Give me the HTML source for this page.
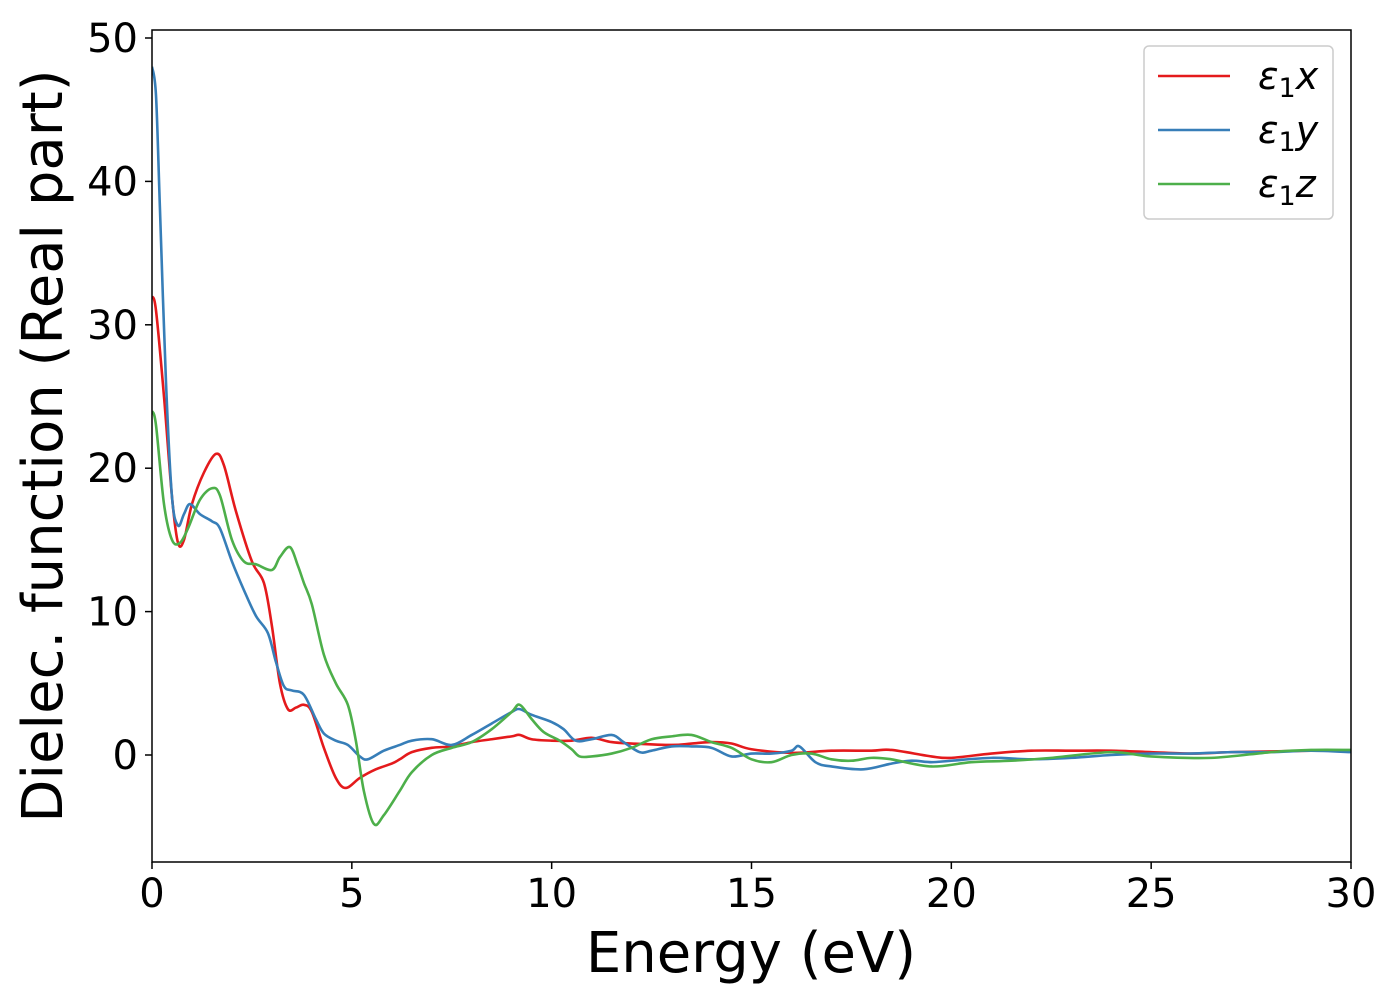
<!DOCTYPE html>
<html><head><meta charset="utf-8"><style>
body{margin:0;background:#fff;}
svg text{font-family:"DejaVu Sans","Liberation Sans",sans-serif;fill:#000;}
</style></head><body>
<svg width="1400" height="1000" viewBox="0 0 1400 1000" xmlns="http://www.w3.org/2000/svg">
<rect width="1400" height="1000" fill="#fff"/>
<defs><clipPath id="pc"><rect x="152" y="30" width="1199" height="832"/></clipPath></defs>
<g id="ticks"></g>
<g id="series" clip-path="url(#pc)"></g>
<rect x="152" y="30" width="1199" height="832" fill="none" stroke="#000" stroke-width="1.5"/>
<text x="751" y="972" font-size="56" text-anchor="middle">Energy (eV)</text>
<text transform="translate(62,446) rotate(-90)" font-size="56" text-anchor="middle">Dielec. function (Real part)</text>
<g>
<rect x="1144" y="46" width="189" height="173" rx="5" fill="#fff" stroke="#ccc" stroke-width="1.5"/>
<line x1="1158" y1="76" x2="1230" y2="76" stroke="#e41a1c" stroke-width="2.5"/>
<text x="1258" y="89" font-size="38" font-style="italic">ε<tspan font-style="normal" font-size="27" dy="8">1</tspan><tspan dy="-8">x</tspan></text>
<line x1="1158" y1="130" x2="1230" y2="130" stroke="#377eb8" stroke-width="2.5"/>
<text x="1258" y="143" font-size="38" font-style="italic">ε<tspan font-style="normal" font-size="27" dy="8">1</tspan><tspan dy="-8">y</tspan></text>
<line x1="1158" y1="184" x2="1230" y2="184" stroke="#4daf4a" stroke-width="2.5"/>
<text x="1258" y="197" font-size="38" font-style="italic">ε<tspan font-style="normal" font-size="27" dy="8">1</tspan><tspan dy="-8">z</tspan></text>
</g>
</svg>
<script>
const xTicks=[0,5,10,15,20,25,30];
const yTicks=[0,10,20,30,40,50];
const redE=[0,0.1,0.3,0.5,0.65,0.8,1.0,1.3,1.6,1.8,2.1,2.5,2.8,3.0,3.2,3.4,3.6,3.8,4.0,4.3,4.6,4.85,5.2,5.6,6.0,6.2,6.5,7,7.5,8,8.5,9,9.2,9.5,10,10.5,11,11.5,12,13,13.5,14,14.5,15,16,17,18,18.5,19.5,20,21,22,23,24,25,26,27,28,29,30];
const redV=[32,31,25,18,14.8,15,17.5,19.7,21,20.2,17,13.5,12,9,5,3.2,3.3,3.5,3,0.5,-1.6,-2.3,-1.6,-1,-0.6,-0.3,0.2,0.5,0.6,0.9,1.1,1.3,1.4,1.1,1.0,1.0,1.2,0.9,0.8,0.7,0.8,0.9,0.8,0.4,0.15,0.3,0.3,0.35,-0.1,-0.2,0.1,0.3,0.3,0.3,0.2,0.1,0.2,0.25,0.3,0.3];
const blueE=[0,0.1,0.2,0.35,0.5,0.65,0.8,0.95,1.2,1.5,1.7,2.0,2.3,2.6,2.9,3.1,3.3,3.5,3.8,4.1,4.3,4.6,4.9,5.2,5.4,5.8,6.2,6.5,7,7.5,8,8.5,9,9.2,9.5,10,10.3,10.6,11,11.5,11.8,12.2,12.5,13,13.5,14,14.5,15,15.5,16,16.2,16.6,17,17.8,18.5,19,19.5,20,21,22,23,24,25,26,27,28,29,30];
const blueV=[48,46,38,26,18,16,16.8,17.5,16.8,16.3,15.8,13.5,11.5,9.7,8.5,6.5,4.8,4.5,4.2,2.5,1.5,1.0,0.7,-0.1,-0.3,0.3,0.7,1.0,1.1,0.7,1.4,2.2,3.0,3.2,2.8,2.3,1.8,1.0,1.1,1.4,0.9,0.2,0.3,0.6,0.6,0.5,-0.1,0.1,0.1,0.3,0.6,-0.5,-0.8,-1.0,-0.6,-0.4,-0.5,-0.4,-0.2,-0.3,-0.2,0.0,0.1,0.1,0.2,0.2,0.3,0.2];
const greenE=[0,0.1,0.3,0.5,0.7,0.9,1.2,1.5,1.7,2.0,2.3,2.6,3.0,3.2,3.45,3.65,3.8,4.0,4.3,4.6,4.9,5.1,5.3,5.55,5.8,6.2,6.5,7,7.5,8,8.5,9,9.2,9.5,9.8,10.2,10.5,10.7,11,11.5,12,12.5,13,13.5,14,14.5,15,15.5,16,16.5,17,17.5,18,18.5,19.5,20.5,21.5,22.5,24,25,26.5,28,29,30];
const greenV=[24,23,17.5,15,14.8,15.8,17.8,18.6,18.1,15,13.5,13.3,12.9,13.8,14.5,13.2,12,10.5,7,5,3.5,1,-2.5,-4.8,-4.2,-2.5,-1.2,0,0.5,0.9,1.8,3.0,3.5,2.5,1.6,1.0,0.4,-0.1,-0.1,0.1,0.5,1.1,1.3,1.4,0.9,0.5,-0.3,-0.5,0.0,0.1,-0.3,-0.4,-0.2,-0.3,-0.8,-0.5,-0.4,-0.2,0.2,-0.1,-0.2,0.2,0.35,0.35];
const NS="http://www.w3.org/2000/svg";
const X0=152,X1=1351,Y0=755,YPU=14.34;
const sx=v=>X0+(X1-X0)*v/30;
const sy=v=>Y0-v*YPU;
const tg=document.getElementById('ticks');
xTicks.forEach(t=>{
 const l=document.createElementNS(NS,'line');
 l.setAttribute('x1',sx(t));l.setAttribute('x2',sx(t));l.setAttribute('y1',862);l.setAttribute('y2',869);l.setAttribute('stroke','#000');l.setAttribute('stroke-width','1.5');
 
 
 tg.appendChild(l);
 const tx=document.createElementNS(NS,'text');
 tx.setAttribute('x',sx(t));tx.setAttribute('y',907);tx.setAttribute('font-size','40');tx.setAttribute('text-anchor','middle');tx.textContent=t;
 
 
 tg.appendChild(tx);
});
yTicks.forEach(t=>{
 const l=document.createElementNS(NS,'line');
 l.setAttribute('x1',145);l.setAttribute('x2',152);l.setAttribute('y1',sy(t));l.setAttribute('y2',sy(t));l.setAttribute('stroke','#000');l.setAttribute('stroke-width','1.5');
 
 
 tg.appendChild(l);
 const tx=document.createElementNS(NS,'text');
 tx.setAttribute('x',138);tx.setAttribute('y',sy(t)+14);tx.setAttribute('font-size','40');tx.setAttribute('text-anchor','end');tx.textContent=t;
 
 
 tg.appendChild(tx);
});
function smooth(E,V){
 const p=E.map((e,i)=>[sx(e),sy(V[i])]);
 let d='M'+p[0][0]+','+p[0][1];
 for(let i=0;i<p.length-1;i++){
  const a=p[Math.max(0,i-1)],b=p[i],c=p[i+1],e=p[Math.min(p.length-1,i+2)];
  const c1=[b[0]+(c[0]-a[0])/6,b[1]+(c[1]-a[1])/6];
  const c2=[c[0]-(e[0]-b[0])/6,c[1]-(e[1]-b[1])/6];
  d+=' C'+c1[0]+','+c1[1]+' '+c2[0]+','+c2[1]+' '+c[0]+','+c[1];
 }
 return d;
}
const sg=document.getElementById('series');
[[redE,redV,'#e41a1c','series-eps1x'],[blueE,blueV,'#377eb8','series-eps1y'],[greenE,greenV,'#4daf4a','series-eps1z']].forEach(s=>{
 const pa=document.createElementNS(NS,'path');
 pa.setAttribute('d',smooth(s[0],s[1]));pa.setAttribute('fill','none');pa.setAttribute('stroke',s[2]);pa.setAttribute('stroke-width','2.6');
 
 
 sg.appendChild(pa);
});
</script>
</body></html>
